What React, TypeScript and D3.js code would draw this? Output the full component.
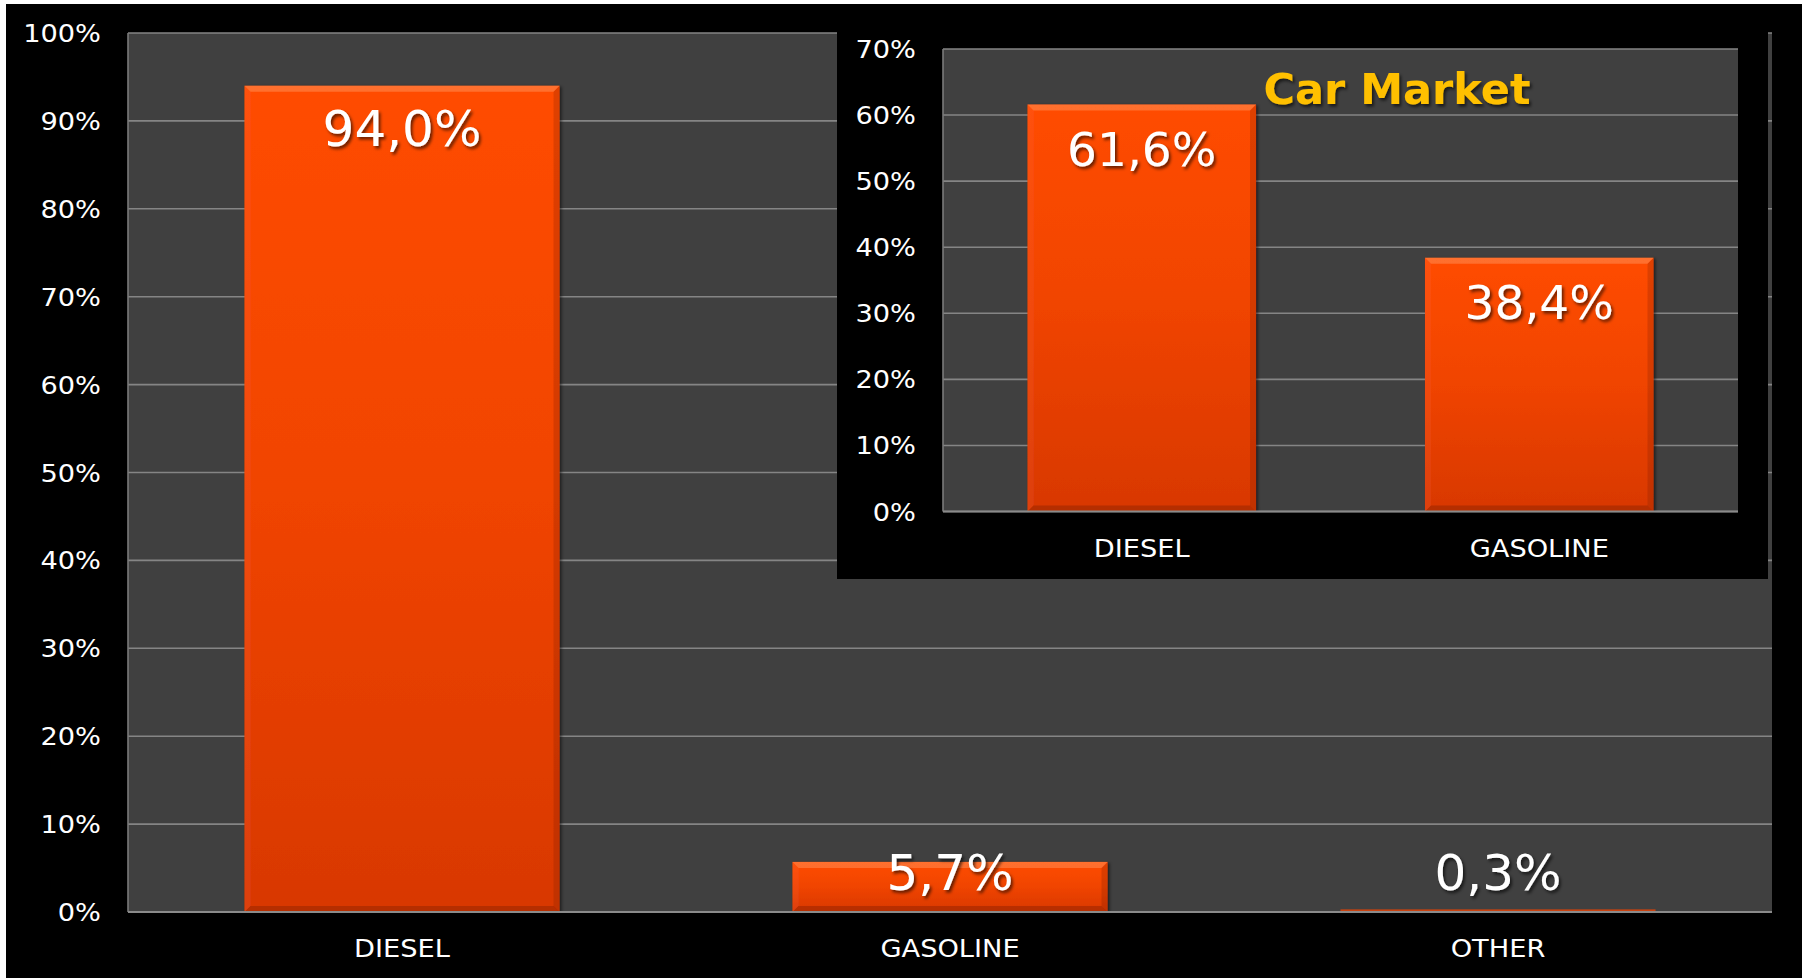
import { scaleBand, scaleLinear } from "d3";

const WIDTH = 1802;
const HEIGHT = 978;

const mainCategories = ["DIESEL", "GASOLINE", "OTHER"];
const mainValues = [94.0, 5.7, 0.3];
const mainTicks = [0, 10, 20, 30, 40, 50, 60, 70, 80, 90, 100];

const insetTitle = "Car Market";
const insetCategories = ["DIESEL", "GASOLINE"];
const insetValues = [61.6, 38.4];
const insetTicks = [0, 10, 20, 30, 40, 50, 60, 70];

const FONT = "'DejaVu Sans', Verdana, sans-serif";
const STRETCH = 1.09; // the source labels are drawn a bit wider than DejaVu

const fmt = (v: number) => v.toFixed(1).replace(".", ",") + "%";

interface PanelProps {
  id: string;
  left: number;
  right: number;
  top: number;
  bottom: number;
  categories: string[];
  values: number[];
  ticks: number[];
  labelSize: number;
  labelOffset: number;
}

function Bar({ x, y, w, h, id }: { x: number; y: number; w: number; h: number; id: string }) {
  const b = Math.min(6, h / 2);
  if (h < 5) {
    return <rect x={x} y={y} width={w} height={h} fill="#c9420f" />;
  }
  return (
    <g filter="url(#barShadow)">
      <rect x={x} y={y} width={w} height={h} fill={`url(#${id})`} />
      <polygon
        points={`${x},${y} ${x + w},${y} ${x + w - b},${y + b} ${x + b},${y + b}`}
        fill="rgba(255,160,100,0.42)"
      />
      <polygon
        points={`${x},${y} ${x + b},${y + b} ${x + b},${y + h - b} ${x},${y + h}`}
        fill="rgba(255,120,60,0.12)"
      />
      <polygon
        points={`${x + w},${y} ${x + w},${y + h} ${x + w - b},${y + h - b} ${x + w - b},${y + b}`}
        fill="rgba(110,25,0,0.22)"
      />
      <polygon
        points={`${x},${y + h} ${x + b},${y + h - b} ${x + w - b},${y + h - b} ${x + w},${y + h}`}
        fill="rgba(100,20,0,0.3)"
      />
    </g>
  );
}

function Panel({
  id,
  left,
  right,
  top,
  bottom,
  categories,
  values,
  ticks,
  labelSize,
  labelOffset,
}: PanelProps) {
  const x = scaleBand<string>()
    .domain(categories)
    .range([left, right])
    .paddingInner(0.425)
    .paddingOuter(0.2125);
  const y = scaleLinear()
    .domain([0, ticks[ticks.length - 1]])
    .range([bottom, top]);

  return (
    <g>
      <rect x={left} y={top} width={right - left} height={bottom - top} fill="#404040" />
      {ticks.map((t) => (
        <line
          key={t}
          x1={left}
          x2={right}
          y1={y(t)}
          y2={y(t)}
          stroke="#858585"
          strokeWidth={1.6}
        />
      ))}
      <line x1={left} x2={left} y1={top} y2={bottom} stroke="#7a7a7a" strokeWidth={1.6} />
      {ticks.map((t) => (
        <text
          key={"l" + t}
          transform={`translate(${left - 27},${y(t)}) scale(${STRETCH},1)`}
          dy="0.36em"
          textAnchor="end"
          fill="#ffffff"
          fontSize={25}
          fontFamily={FONT}
        >
          {t + "%"}
        </text>
      ))}
      {categories.map((c, i) => {
        const v = values[i];
        const bx = x(c) ?? 0;
        const by = y(v);
        return (
          <Bar key={c} id={id + "grad"} x={bx} y={by} w={x.bandwidth()} h={y(0) - by} />
        );
      })}
      <line x1={left} x2={right} y1={bottom} y2={bottom} stroke="#8a8a8a" strokeWidth={2} />
      {categories.map((c, i) => {
        const v = values[i];
        const cx = (x(c) ?? 0) + x.bandwidth() / 2;
        const ly = Math.min(y(v) + labelOffset, y(0) - 22);
        return (
          <text
            key={"v" + c}
            x={cx}
            y={ly}
            textAnchor="middle"
            fill="#ffffff"
            fontSize={labelSize}
            fontFamily={FONT}
            filter="url(#textShadow)"
          >
            {fmt(v)}
          </text>
        );
      })}
      {categories.map((c) => (
        <text
          key={"c" + c}
          transform={`translate(${(x(c) ?? 0) + x.bandwidth() / 2},${bottom + 45}) scale(${STRETCH},1)`}
          textAnchor="middle"
          fill="#ffffff"
          fontSize={25}
          fontFamily={FONT}
        >
          {c}
        </text>
      ))}
    </g>
  );
}

export default function App() {
  return (
    <svg
      width={WIDTH}
      height={HEIGHT}
      style={{ position: "fixed", left: 0, top: 0, background: "#ffffff" }}
    >
      <defs>
        <linearGradient id="maingrad" x1="0" y1="0" x2="0" y2="1">
          <stop offset="0" stopColor="#ff4c06" />
          <stop offset="0.5" stopColor="#f04405" />
          <stop offset="1" stopColor="#d83805" />
        </linearGradient>
        <linearGradient id="insetgrad" x1="0" y1="0" x2="0" y2="1">
          <stop offset="0" stopColor="#ff4c06" />
          <stop offset="0.5" stopColor="#f04405" />
          <stop offset="1" stopColor="#d83805" />
        </linearGradient>
        <filter id="textShadow" x="-20%" y="-20%" width="140%" height="150%">
          <feDropShadow dx="2" dy="2.5" stdDeviation="1.5" floodColor="#000" floodOpacity="0.6" />
        </filter>
        <filter id="barShadow" x="-5%" y="-5%" width="110%" height="110%">
          <feDropShadow dx="2" dy="1" stdDeviation="1.5" floodColor="#000" floodOpacity="0.5" />
        </filter>
      </defs>
      <rect x={6} y={4} width={WIDTH - 6} height={HEIGHT - 4} fill="#000000" />
      <Panel
        id="main"
        left={128}
        right={1772}
        top={33}
        bottom={912}
        categories={mainCategories}
        values={mainValues}
        ticks={mainTicks}
        labelSize={50}
        labelOffset={60}
      />
      <rect x={837} y={20} width={931} height={559} fill="#000000" />
      <Panel
        id="inset"
        left={943}
        right={1738}
        top={49}
        bottom={511.5}
        categories={insetCategories}
        values={insetValues}
        ticks={insetTicks}
        labelSize={47}
        labelOffset={61}
      />
      <text
        x={1397}
        y={104}
        textAnchor="middle"
        fill="#ffc000"
        fontSize={43}
        fontWeight="bold"
        fontFamily={FONT}
        filter="url(#textShadow)"
      >
        {insetTitle}
      </text>
    </svg>
  );
}
